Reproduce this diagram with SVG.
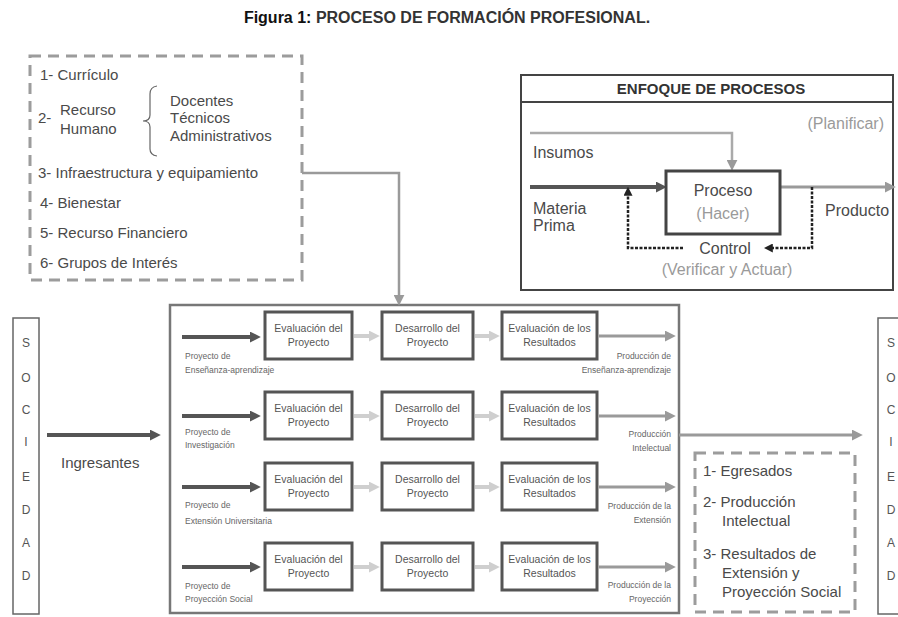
<svg xmlns="http://www.w3.org/2000/svg" width="898" height="617" viewBox="0 0 898 617">
<style>
  text { font-family: "Liberation Sans", Arial, sans-serif; fill: #4a4a4a; }
  .title { font-size: 16px; font-weight: bold; fill: #333; }
  .list { font-size: 15px; }
  .enf { font-size: 16px; }
  .soft { fill: #9a9a9a; }
  .hdr { font-size: 15px; font-weight: bold; fill: #333; }
  .box { fill: #fff; stroke: #555; stroke-width: 3; }
  .btxt { font-size: 10.5px; text-anchor: middle; fill: #555; }
  .small { font-size: 8.5px; fill: #666; }
  .soc { font-size: 12px; text-anchor: middle; fill: #555; }
  .dash { fill: none; stroke: #9c9c9c; stroke-width: 3; stroke-dasharray: 11 7; }
  .dark { stroke: #555; stroke-width: 4; fill: none; }
  .mid { stroke: #9a9a9a; stroke-width: 3; fill: none; }
  .light { stroke: #cfcfcf; stroke-width: 4; fill: none; }
  .dot { stroke: #222; stroke-width: 2.5; fill: none; stroke-dasharray: 3 1.5; }
</style>
<defs>
  <marker id="hDark" viewBox="0 0 10 10" refX="2" refY="5" markerWidth="11" markerHeight="11" markerUnits="userSpaceOnUse" orient="auto"><path d="M0,0 L10,5 L0,10 z" fill="#555"/></marker>
  <marker id="hMid" viewBox="0 0 10 10" refX="2" refY="5" markerWidth="11" markerHeight="11" markerUnits="userSpaceOnUse" orient="auto"><path d="M0,0 L10,5 L0,10 z" fill="#9a9a9a"/></marker>
  <marker id="hLight" viewBox="0 0 10 10" refX="2" refY="5" markerWidth="11" markerHeight="11" markerUnits="userSpaceOnUse" orient="auto"><path d="M0,0 L10,5 L0,10 z" fill="#cfcfcf"/></marker>
  <marker id="hDot" viewBox="0 0 10 10" refX="2" refY="5" markerWidth="9" markerHeight="9" markerUnits="userSpaceOnUse" orient="auto"><path d="M0,0 L10,5 L0,10 z" fill="#222"/></marker>
</defs>

<rect width="898" height="617" fill="#fff"/>

<text class="title" x="447" y="23" text-anchor="middle"><tspan fill="#111">Figura 1:</tspan> PROCESO DE FORMACIÓN PROFESIONAL.</text>

<!-- Resources -->
<g id="recursos">
  <rect class="dash" x="30" y="56" width="272" height="224"/>
  <text class="list" x="40" y="80">1- Currículo</text>
  <text class="list" x="38" y="123">2-</text>
  <text class="list" x="60" y="115">Recurso</text>
  <text class="list" x="60" y="134">Humano</text>
  <path d="M157,86 Q150,87 150,94 L150,115 Q150,121 143,121 Q150,121 150,127 L150,149 Q150,155 157,156" fill="none" stroke="#666" stroke-width="1.2"/>
  <text class="list" x="170" y="106">Docentes</text>
  <text class="list" x="170" y="123">Técnicos</text>
  <text class="list" x="170" y="141">Administrativos</text>
  <text class="list" x="38" y="178">3- Infraestructura y equipamiento</text>
  <text class="list" x="40" y="208">4- Bienestar</text>
  <text class="list" x="40" y="238">5- Recurso Financiero</text>
  <text class="list" x="40" y="268">6- Grupos de Interés</text>
</g>

<!-- Process approach -->
<g id="enfoque">
  <rect x="521" y="75" width="372" height="215" fill="#fff" stroke="#444" stroke-width="2"/>
  <line x1="521" y1="102" x2="893" y2="102" stroke="#444" stroke-width="2"/>
  <text class="hdr" x="711" y="94" text-anchor="middle">ENFOQUE DE PROCESOS</text>
  <text class="enf soft" x="884" y="129" text-anchor="end">(Planificar)</text>
  <text class="enf" x="533" y="158">Insumos</text>
  <text class="enf" x="533" y="214">Materia</text>
  <text class="enf" x="533" y="231">Prima</text>
  <text class="enf" x="825" y="216">Producto</text>
  <path class="mid" d="M530,133 L732,133 L732,162" marker-end="url(#hMid)" style="stroke:#aaa;stroke-width:2.5"/>
  <line class="dark" x1="530" y1="187" x2="658" y2="187" marker-end="url(#hDark)"/>
  <line class="mid" x1="780" y1="187" x2="887" y2="187" marker-end="url(#hMid)"/>
  <path class="dot" d="M812,187 L812,248 L771,248" marker-end="url(#hDot)"/>
  <path class="dot" d="M683,248 L628,248 L628,194" marker-end="url(#hDot)"/>
  <g id="proceso">
    <rect x="666" y="171" width="114" height="63" fill="#fff" stroke="#444" stroke-width="3"/>
    <text class="enf" x="723" y="196" text-anchor="middle">Proceso</text>
    <text class="enf soft" x="723" y="219" text-anchor="middle">(Hacer)</text>
  </g>
  <text class="enf" x="725" y="254" text-anchor="middle">Control</text>
  <text class="enf soft" x="727" y="275" text-anchor="middle">(Verificar y Actuar)</text>
</g>

<!-- Society (input side) -->
<g id="sociedad-entrada">
  <rect x="13" y="318" width="26" height="296" fill="#fff" stroke="#666" stroke-width="1.5"/>
  <text class="soc" x="26" y="347">S</text>
  <text class="soc" x="26" y="382">O</text>
  <text class="soc" x="26" y="414">C</text>
  <text class="soc" x="26" y="446">I</text>
  <text class="soc" x="26" y="481">E</text>
  <text class="soc" x="26" y="514">D</text>
  <text class="soc" x="26" y="547">A</text>
  <text class="soc" x="26" y="580">D</text>
</g>

<!-- Society (output side) -->
<g id="sociedad-salida">
  <rect x="878" y="318" width="30" height="296" fill="#fff" stroke="#666" stroke-width="1.5"/>
  <text class="soc" x="891" y="347">S</text>
  <text class="soc" x="891" y="382">O</text>
  <text class="soc" x="891" y="414">C</text>
  <text class="soc" x="891" y="446">I</text>
  <text class="soc" x="891" y="481">E</text>
  <text class="soc" x="891" y="514">D</text>
  <text class="soc" x="891" y="547">A</text>
  <text class="soc" x="891" y="580">D</text>
</g>

<text class="list" x="61" y="468">Ingresantes</text>

<!-- Training process frame -->
<g id="formacion">
  <rect x="170" y="305" width="509" height="308" fill="none" stroke="#777" stroke-width="2.5"/>

  <g id="fila-ensenanza">
    <rect class="box" x="265" y="312" width="87" height="47"/>
    <text class="btxt" x="308.5" y="332">Evaluación del</text>
    <text class="btxt" x="308.5" y="346">Proyecto</text>
    <rect class="box" x="382" y="312" width="91" height="47"/>
    <text class="btxt" x="427.5" y="332">Desarrollo del</text>
    <text class="btxt" x="427.5" y="346">Proyecto</text>
    <rect class="box" x="502" y="312" width="95" height="47"/>
    <text class="btxt" x="549.5" y="332">Evaluación de los</text>
    <text class="btxt" x="549.5" y="346">Resultados</text>
    <text class="small" x="185" y="359">Proyecto de</text>
    <text class="small" x="185" y="373">Enseñanza-aprendizaje</text>
    <text class="small" x="671" y="359" text-anchor="end">Producción de</text>
    <text class="small" x="671" y="373" text-anchor="end">Enseñanza-aprendizaje</text>
  </g>

  <g id="fila-investigacion">
    <rect class="box" x="265" y="392" width="87" height="47"/>
    <text class="btxt" x="308.5" y="412">Evaluación del</text>
    <text class="btxt" x="308.5" y="426">Proyecto</text>
    <rect class="box" x="382" y="392" width="91" height="47"/>
    <text class="btxt" x="427.5" y="412">Desarrollo del</text>
    <text class="btxt" x="427.5" y="426">Proyecto</text>
    <rect class="box" x="502" y="392" width="95" height="47"/>
    <text class="btxt" x="549.5" y="412">Evaluación de los</text>
    <text class="btxt" x="549.5" y="426">Resultados</text>
    <text class="small" x="185" y="435">Proyecto de</text>
    <text class="small" x="185" y="448">Investigación</text>
    <text class="small" x="671" y="437" text-anchor="end">Producción</text>
    <text class="small" x="671" y="451" text-anchor="end">Intelectual</text>
  </g>

  <g id="fila-extension">
    <rect class="box" x="265" y="463" width="87" height="47"/>
    <text class="btxt" x="308.5" y="483">Evaluación del</text>
    <text class="btxt" x="308.5" y="497">Proyecto</text>
    <rect class="box" x="382" y="463" width="91" height="47"/>
    <text class="btxt" x="427.5" y="483">Desarrollo del</text>
    <text class="btxt" x="427.5" y="497">Proyecto</text>
    <rect class="box" x="502" y="463" width="95" height="47"/>
    <text class="btxt" x="549.5" y="483">Evaluación de los</text>
    <text class="btxt" x="549.5" y="497">Resultados</text>
    <text class="small" x="185" y="508">Proyecto de</text>
    <text class="small" x="185" y="524">Extensión Universitaria</text>
    <text class="small" x="671" y="509" text-anchor="end">Producción de la</text>
    <text class="small" x="671" y="523" text-anchor="end">Extensión</text>
  </g>

  <g id="fila-proyeccion">
    <rect class="box" x="265" y="543" width="87" height="47"/>
    <text class="btxt" x="308.5" y="563">Evaluación del</text>
    <text class="btxt" x="308.5" y="577">Proyecto</text>
    <rect class="box" x="382" y="543" width="91" height="47"/>
    <text class="btxt" x="427.5" y="563">Desarrollo del</text>
    <text class="btxt" x="427.5" y="577">Proyecto</text>
    <rect class="box" x="502" y="543" width="95" height="47"/>
    <text class="btxt" x="549.5" y="563">Evaluación de los</text>
    <text class="btxt" x="549.5" y="577">Resultados</text>
    <text class="small" x="185" y="589">Proyecto de</text>
    <text class="small" x="185" y="602">Proyección Social</text>
    <text class="small" x="671" y="588" text-anchor="end">Producción de la</text>
    <text class="small" x="671" y="602" text-anchor="end">Proyección</text>
  </g>
</g>

<!-- Results -->
<g id="resultados">
  <rect class="dash" x="695" y="453" width="160" height="159"/>
  <text class="list" x="703" y="476">1- Egresados</text>
  <text class="list" x="703" y="507">2- Producción</text>
  <text class="list" x="722" y="526">Intelectual</text>
  <text class="list" x="703" y="559">3- Resultados de</text>
  <text class="list" x="722" y="578">Extensión y</text>
  <text class="list" x="722" y="597">Proyección Social</text>
</g>

<!-- Connectors -->
<g id="conectores">
  <path class="mid" d="M302,173 L399,173 L399,297" marker-end="url(#hMid)" style="stroke-width:2.5"/>
  <line class="dark" x1="47" y1="435" x2="152" y2="435" marker-end="url(#hDark)"/>
  <line class="mid" x1="679" y1="435" x2="854" y2="435" marker-end="url(#hMid)"/>

  <line class="dark" x1="182" y1="337" x2="252" y2="337" marker-end="url(#hDark)"/>
  <line class="dark" x1="182" y1="416" x2="252" y2="416" marker-end="url(#hDark)"/>
  <line class="dark" x1="182" y1="487" x2="252" y2="487" marker-end="url(#hDark)"/>
  <line class="dark" x1="182" y1="567" x2="252" y2="567" marker-end="url(#hDark)"/>

  <line class="light" x1="354" y1="336" x2="371" y2="336" marker-end="url(#hLight)"/>
  <line class="light" x1="475" y1="336" x2="491" y2="336" marker-end="url(#hLight)"/>
  <line class="light" x1="354" y1="416" x2="371" y2="416" marker-end="url(#hLight)"/>
  <line class="light" x1="475" y1="416" x2="491" y2="416" marker-end="url(#hLight)"/>
  <line class="light" x1="354" y1="487" x2="371" y2="487" marker-end="url(#hLight)"/>
  <line class="light" x1="475" y1="487" x2="491" y2="487" marker-end="url(#hLight)"/>
  <line class="light" x1="354" y1="567" x2="371" y2="567" marker-end="url(#hLight)"/>
  <line class="light" x1="475" y1="567" x2="491" y2="567" marker-end="url(#hLight)"/>

  <line class="mid" x1="599" y1="336" x2="667" y2="336" marker-end="url(#hMid)"/>
  <line class="mid" x1="599" y1="416" x2="667" y2="416" marker-end="url(#hMid)"/>
  <line class="mid" x1="599" y1="487" x2="667" y2="487" marker-end="url(#hMid)"/>
  <line class="mid" x1="599" y1="567" x2="667" y2="567" marker-end="url(#hMid)"/>
</g>
</svg>
